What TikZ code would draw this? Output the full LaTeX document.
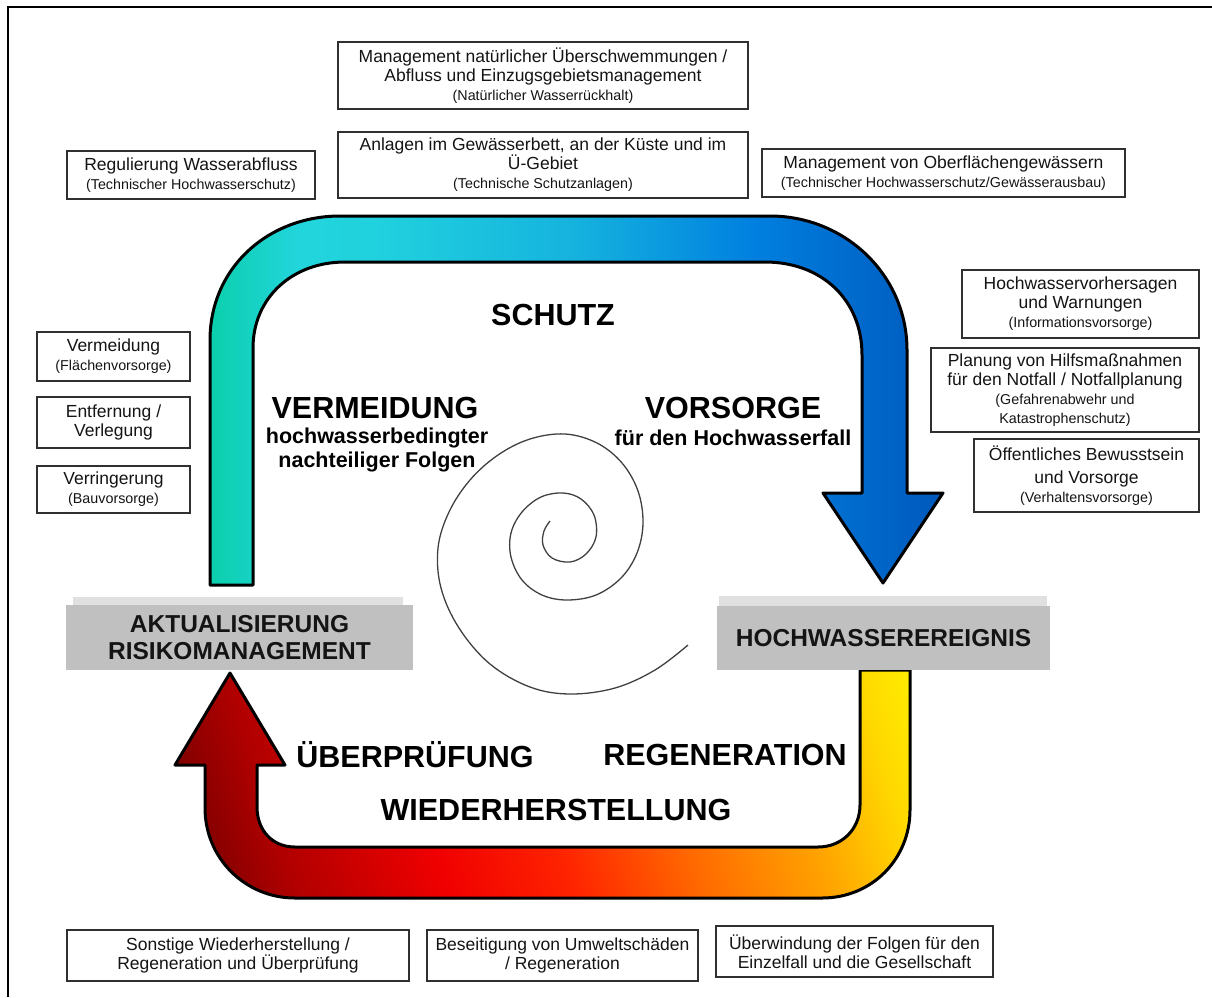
\documentclass[tikz,border=0pt]{standalone}
\usepackage{fontspec}
\setmainfont{Liberation Sans}
\definecolor{tA}{HTML}{0BCFAC}
\definecolor{tB}{HTML}{22D5DC}
\definecolor{tC}{HTML}{20D0DE}
\definecolor{tD}{HTML}{15B2DE}
\definecolor{tE}{HTML}{0080E0}
\definecolor{tF}{HTML}{0058BC}
\definecolor{bA}{HTML}{6A0000}
\definecolor{bB}{HTML}{B00000}
\definecolor{bC}{HTML}{F00000}
\definecolor{bD}{HTML}{FF2400}
\definecolor{bE}{HTML}{FF6A00}
\definecolor{bF}{HTML}{FFA400}
\definecolor{bG}{HTML}{FFD800}
\definecolor{bH}{HTML}{FFF000}
\definecolor{greyA}{HTML}{C0C0C0}
\definecolor{greyB}{HTML}{E0E0E0}
\definecolor{boxline}{HTML}{303030}
\definecolor{txt}{HTML}{141414}
\pgfdeclarehorizontalshading{topgrad}{100bp}{color(0bp)=(tA); color(25bp)=(tA); color(31bp)=(tB); color(37bp)=(tC); color(50bp)=(tD); color(62bp)=(tE); color(75bp)=(tF); color(100bp)=(tF)}
\pgfdeclarehorizontalshading{botgrad}{100bp}{color(0bp)=(bA); color(19bp)=(bA); color(28bp)=(bB); color(40bp)=(bC); color(50bp)=(bD); color(60bp)=(bE); color(70bp)=(bF); color(77bp)=(bG); color(82bp)=(bH); color(100bp)=(bH)}
\newcommand{\subtxt}[1]{{\fontsize{14.3}{16}\selectfont #1}}
\begin{document}
\begin{tikzpicture}[x=1pt,y=-1pt,
  infobox/.style={draw=boxline, line width=1.3pt, fill=white, align=center, inner sep=0pt, text=txt, font=\fontsize{17.5}{19}\selectfont},
  greybox/.style={fill=greyA, inner sep=0pt, align=center, text=txt, font=\bfseries\fontsize{24.5}{27}\selectfont},
  biglabel/.style={inner sep=0pt, text=black, font=\bfseries\fontsize{30.5}{33}\selectfont},
  sublabel/.style={inner sep=0pt, text=black, align=center, font=\bfseries\fontsize{21.5}{24}\selectfont},
  bigarrow/.style={draw=black, line width=3pt, line join=round}]
\useasboundingbox (0,0) rectangle (1212,997);
% frame
\draw[line width=2pt, black] (8,997) -- (8,7) -- (1212,7);

% top arrow (Schutz / Vorsorge)
\path[bigarrow, shading=topgrad]
  (210,585) -- (210,340) .. controls (210,268) and (268,216) .. (340,216)
  -- (770,216) .. controls (845,216) and (907,275) .. (907,350)
  -- (907,493) -- (943,493) -- (883,583) -- (823,493) -- (862,493)
  -- (862,355) .. controls (862,300) and (822,262) .. (765,262)
  -- (345,262) .. controls (292,262) and (253,298) .. (253,348)
  -- (253,585) -- cycle;

% bottom arrow (Regeneration / Wiederherstellung)
\path[bigarrow, shading=botgrad, shading angle=17]
  (860,670) -- (910,670) -- (910,810) .. controls (910,859) and (872,898) .. (822,898)
  -- (295,898) .. controls (245,898) and (205,858) .. (205,808)
  -- (205,765) -- (175,765) -- (230,673) -- (285,765) -- (257,765)
  -- (257,807) .. controls (257,830) and (272,847) .. (295,847)
  -- (818,847) .. controls (842,847) and (860,829) .. (860,805) -- cycle;

% spiral
\draw[line width=1.3pt, black!75] plot[smooth, tension=0.6] coordinates {
 (550,521) (544,531) (543,545) (552,558) (570,562) (586,554) (596,537) (594,515)
 (581,499) (563,493) (541,497) (522,512) (511,533) (511,557) (522,580) (542,595)
 (567,600) (596,595) (621,578) (637,553) (643,523) (638,491) (622,463) (597,443)
 (565,434) (530,439) (498,455) (470,480) (449,512) (438,548) (441,588) (459,628)
 (490,664) (530,687) (570,694) (615,688) (655,670) (688,645)};

% grey boxes
\fill[greyB] (73,597) rectangle (403,606);
\node[greybox, minimum width=347pt, minimum height=65pt] (aktual) at (239.5,637.5)
  {AKTUALISIERUNG\\RISIKOMANAGEMENT};
\fill[greyB] (719,596) rectangle (1047,607);
\node[greybox, minimum width=333pt, minimum height=64pt] (hochw) at (883.5,638)
  {HOCHWASSEREREIGNIS};

% big labels
\node[biglabel] (schutz) at (553,315) {SCHUTZ};
\node[biglabel] (vermeid) at (375,408) {VERMEIDUNG};
\node[sublabel] (vermeidsub) at (377,450) {hochwasserbedingter\\nachteiliger Folgen};
\node[biglabel] (vorsorge) at (733,408) {VORSORGE};
\node[sublabel] (vorsorgesub) at (733,438) {für den Hochwasserfall};
\node[biglabel] (ueberpr) at (415,755) {ÜBERPRÜFUNG};
\node[biglabel] (regen) at (725,755) {REGENERATION};
\node[biglabel] (wiederh) at (556,810) {WIEDERHERSTELLUNG};

% info boxes
\node[infobox, minimum width=410pt, minimum height=67pt] (boxA) at (543,75.5)
  {Management natürlicher Überschwemmungen /\\Abfluss und Einzugsgebietsmanagement\\\subtxt{(Natürlicher Wasserrückhalt)}};
\node[infobox, minimum width=410pt, minimum height=66pt] (boxB) at (543,165)
  {Anlagen im Gewässerbett, an der Küste und im\\Ü-Gebiet\\\subtxt{(Technische Schutzanlagen)}};
\node[infobox, minimum width=248pt, minimum height=48pt] (boxC) at (191,175)
  {Regulierung Wasserabfluss\\\subtxt{(Technischer Hochwasserschutz)}};
\node[infobox, minimum width=363pt, minimum height=48pt] (boxD) at (943.5,173)
  {Management von Oberflächengewässern\\\subtxt{(Technischer Hochwasserschutz/Gewässerausbau)}};
\node[infobox, minimum width=237pt, minimum height=68pt] (boxE) at (1080.5,304)
  {Hochwasservorhersagen\\und Warnungen\\\subtxt{(Informationsvorsorge)}};
\node[infobox, minimum width=268pt, minimum height=84pt] (boxF) at (1065,390)
  {Planung von Hilfsmaßnahmen\\für den Notfall / Notfallplanung\\\subtxt{(Gefahrenabwehr und}\\\subtxt{Katastrophenschutz)}};
\node[infobox, minimum width=225pt, minimum height=73pt] (boxG) at (1086.5,475.5)
  {Öffentliches Bewusstsein\\[4pt]und Vorsorge\\\subtxt{(Verhaltensvorsorge)}};
\node[infobox, minimum width=153pt, minimum height=49pt] (boxH) at (113.5,356.5)
  {Vermeidung\\\subtxt{(Flächenvorsorge)}};
\node[infobox, minimum width=153pt, minimum height=51pt] (boxI) at (113.5,422.5)
  {Entfernung /\\Verlegung};
\node[infobox, minimum width=153pt, minimum height=47pt] (boxJ) at (113.5,489.5)
  {Verringerung\\\subtxt{(Bauvorsorge)}};
\node[infobox, minimum width=342pt, minimum height=51pt] (boxK) at (238,955.5)
  {Sonstige Wiederherstellung /\\Regeneration und Überprüfung};
\node[infobox, minimum width=271pt, minimum height=51pt] (boxL) at (562.5,955.5)
  {Beseitigung von Umweltschäden\\/ Regeneration};
\node[infobox, minimum width=277pt, minimum height=51pt] (boxM) at (854.5,951.5)
  {Überwindung der Folgen für den\\Einzelfall und die Gesellschaft};
\end{tikzpicture}
\end{document}
